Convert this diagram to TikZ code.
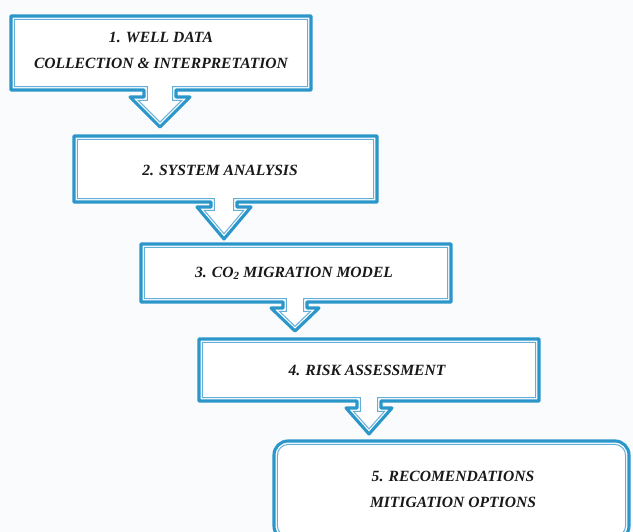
\documentclass[tikz,border=0pt]{standalone}
\usepackage{fontspec}
\setmainfont{Liberation Serif}
\definecolor{boxblue}{RGB}{42,150,202}
\definecolor{innerblue}{RGB}{100,175,218}
\definecolor{bgcol}{RGB}{250,251,252}
\definecolor{txtcol}{RGB}{25,25,25}
\def\FBins{3.4}
\tikzset{
  outerline/.style={draw=boxblue, line width=3.1pt, line join=round, fill=white},
  innerline/.style={draw=innerblue, line width=1pt, line join=miter},
  label/.style={font=\fontsize{15.6}{26}\selectfont\bfseries\itshape, text=txtcol, align=center, inner sep=0pt}
}
% #1 L, #2 T, #3 R, #4 B, #5 mid, #6 stem half, #7 neck, #8 head half, #9 tip
\newcommand\flowbox[9]{%
  \pgfmathsetmacro\FBsL{#5-#6}\pgfmathsetmacro\FBsR{#5+#6}%
  \pgfmathsetmacro\FBhL{#5-#8}\pgfmathsetmacro\FBhR{#5+#8}%
  \draw[outerline] (#1,#2) -- (#3,#2) -- (#3,#4) -- (\FBsR,#4) -- (\FBsR,#7) -- (\FBhR,#7) -- (#5,#9) -- (\FBhL,#7) -- (\FBsL,#7) -- (\FBsL,#4) -- (#1,#4) -- cycle;
  \pgfmathsetmacro\FBdx{#8}\pgfmathsetmacro\FBdy{#9-#7}%
  \pgfmathsetmacro\FBlen{sqrt(\FBdx*\FBdx+\FBdy*\FBdy)}%
  \pgfmathsetmacro\FBt{\FBins*(1+\FBdx/\FBlen)/\FBdy}%
  \pgfmathsetmacro\FBhiR{#5+#8-\FBins*\FBdy/\FBlen-\FBt*\FBdx}%
  \pgfmathsetmacro\FBhiL{2*#5-\FBhiR}%
  \pgfmathsetmacro\FBtip{#9-\FBins*\FBlen/\FBdx}%
  \draw[innerline] ({#1+\FBins},{#2+\FBins}) -- ({#3-\FBins},{#2+\FBins}) -- ({#3-\FBins},{#4-\FBins})
    -- ({\FBsR-\FBins},{#4-\FBins}) -- ({\FBsR-\FBins},{#7+\FBins}) -- (\FBhiR,{#7+\FBins})
    -- (#5,\FBtip) -- (\FBhiL,{#7+\FBins}) -- ({\FBsL+\FBins},{#7+\FBins}) -- ({\FBsL+\FBins},{#4-\FBins})
    -- ({#1+\FBins},{#4-\FBins}) -- cycle;
}
\begin{document}
\begin{tikzpicture}[x=1pt,y=-1pt]
  \fill[bgcol] (0,0) rectangle (633,532);
  \useasboundingbox (0,0) rectangle (633,532);
  \clip (0,0) rectangle (633,532);
  \flowbox{11}{16}{311}{90}{160}{16}{97}{30}{127}
  \flowbox{74}{136}{377}{202}{224}{13}{207}{27}{239}
  \flowbox{141}{244}{451}{302}{295}{12}{308}{24}{331}
  \flowbox{199}{339}{539}{401}{369}{12}{408}{23}{434}
  \draw[outerline, rounded corners=14pt] (274,441) rectangle (629,540);
  \draw[innerline, rounded corners=11pt] (277.4,444.4) rectangle (625.6,536.6);
  \node[label] (t1) at (161,50) {1. WELL DATA\\COLLECTION \& INTERPRETATION};
  \node[label] (t2) at (220,170) {2. SYSTEM ANALYSIS};
  \node[label] (t3) at (294,273) {3. CO\textsubscript{2} MIGRATION MODEL};
  \node[label] (t4) at (367,370) {4. RISK ASSESSMENT};
  \node[label] (t5) at (453,489.5) {5. RECOMENDATIONS\\MITIGATION OPTIONS};
\end{tikzpicture}
\end{document}
